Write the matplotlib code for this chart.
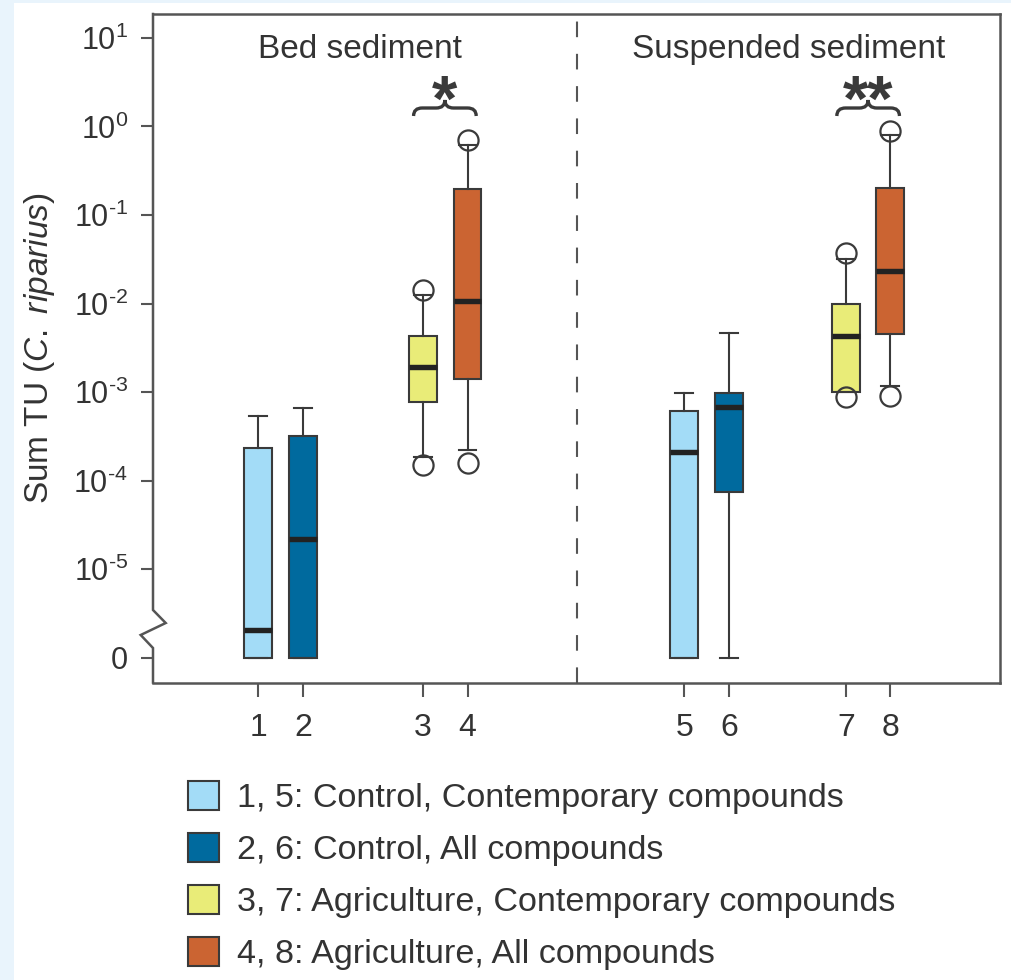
import math
import matplotlib
matplotlib.use("Agg")
import matplotlib.pyplot as plt
from matplotlib.patches import Patch, Rectangle, PathPatch
from matplotlib.path import Path
from matplotlib.lines import Line2D
from matplotlib.ticker import FixedLocator, NullLocator
import matplotlib.transforms as mtransforms

plt.rcParams['font.family'] = ['Liberation Sans', 'DejaVu Sans']
plt.rcParams['mathtext.fontset'] = 'custom'
plt.rcParams['mathtext.rm'] = 'Liberation Sans'
plt.rcParams['mathtext.it'] = 'Liberation Sans:italic'
plt.rcParams['mathtext.bf'] = 'Liberation Sans:bold'
plt.rcParams['mathtext.default'] = 'regular'

# ---- data -------------------------------------------------------------
box_labels = ['1', '2', '3', '4', '5', '6', '7', '8']
whisker_low = [0, 0, 1.86e-4, 2.21e-4, 0, 0, 1.0e-3, 1.17e-3]
quartile_1 = [0, 0, 7.8e-4, 1.39e-3, 0, 7.5e-5, 1.0e-3, 4.5e-3]
median = [2.05e-6, 2.2e-5, 1.9e-3, 1.07e-2, 2.1e-4, 6.8e-4, 4.3e-3, 2.3e-2]
quartile_3 = [2.3e-4, 3.2e-4, 4.3e-3, 0.196, 6.1e-4, 9.8e-4, 9.8e-3, 0.20]
whisker_high = [5.3e-4, 6.6e-4, 1.24e-2, 0.62, 9.8e-4, 4.6e-3, 3.18e-2, 0.80]
outlier_high = [None, None, 1.43e-2, 0.70, None, None, 3.69e-2, 0.89]
outlier_low = [None, None, 1.50e-4, 1.56e-4, None, None, 8.85e-4, 9.0e-4]

panel_titles = ['Bed sediment', 'Suspended sediment']
significance = ['*', '**']
legend_labels = ['1, 5: Control, Contemporary compounds',
                 '2, 6: Control, All compounds',
                 '3, 7: Agriculture, Contemporary compounds',
                 '4, 8: Agriculture, All compounds']
y_tick_values = [0, 1e-5, 1e-4, 1e-3, 1e-2, 1e-1, 1e0, 1e1]

# ---- layout / style ---------------------------------------------------
W, H = 1011, 980
positions = [2.42, 3.45, 6.2, 7.23, 12.21, 13.25, 15.93, 16.95]
divider_x = 9.75
title_x = [4.76, 14.62]
pair_centers = [6.71, 16.44]
pair_halfwidth = 0.72
colors = ['#a3dcf7', '#006a9e', '#e9ec78', '#cb6432']
box_colors = colors + colors
EDGE = '#3a3a3a'
TEXT = '#333333'
SPINE = '#555555'
ZERO_AT = 1e-6  # where "0" sits below the axis break


def plotted(v):
    return ZERO_AT if v == 0 else v


fig = plt.figure(figsize=(W / 100, H / 100), dpi=100)
fig.patch.set_facecolor('#e9f4fc')
fig.add_artist(Rectangle((14 / W, 0), 1, 1 - 3 / H, transform=fig.transFigure,
                         facecolor='white', edgecolor='none', zorder=-10))

ax_l, ax_r, ax_t, ax_b = 153, 1000, 14, 682.5
ax = fig.add_axes([ax_l / W, (H - ax_b) / H, (ax_r - ax_l) / W, (ax_b - ax_t) / H])
ax.set_facecolor('white')
ax.set_yscale('log')
ax.set_ylim(5.22e-7, 18.67)
ax.set_xlim(0, (ax_r - ax_l) / 43.5)

stats = []
for i in range(len(box_labels)):
    fl = [plotted(v) for v in (outlier_low[i], outlier_high[i]) if v is not None]
    stats.append(dict(label=box_labels[i], med=plotted(median[i]),
                      q1=plotted(quartile_1[i]), q3=plotted(quartile_3[i]),
                      whislo=plotted(whisker_low[i]), whishi=plotted(whisker_high[i]),
                      fliers=fl))

bp = ax.bxp(stats, positions=positions, widths=0.64, capwidths=0.41,
            patch_artist=True, showfliers=True,
            boxprops=dict(edgecolor=EDGE, linewidth=1.5),
            medianprops=dict(color='#222222', linewidth=3.9, solid_capstyle='butt'),
            whiskerprops=dict(color=EDGE, linewidth=1.5),
            capprops=dict(color=EDGE, linewidth=1.5),
            flierprops=dict(marker='o', markersize=14.5, markerfacecolor='none',
                            markeredgecolor=EDGE, markeredgewidth=1.6))
for patch, c in zip(bp['boxes'], box_colors):
    patch.set_facecolor(c)

# dashed separator between the two sediment types
ax.axvline(divider_x, color=SPINE, linewidth=1.5, linestyle=(0, (7.5, 8.0)), zorder=1)

# ticks
ax.set_xticks(positions)
ax.set_xticklabels(box_labels)
ax.tick_params(axis='x', direction='out', length=10, width=1.5, color=SPINE,
               labelsize=23, labelcolor=TEXT, pad=12)


def tick_text(v):
    if v == 0:
        return '0'
    e = int(round(math.log10(v)))
    if e < 0:
        return r'$10^{\text{-}%d}$' % abs(e)
    return r'$10^{%d}$' % e


ax.yaxis.set_major_locator(FixedLocator([plotted(v) for v in y_tick_values]))
ax.yaxis.set_minor_locator(NullLocator())
ax.set_yticklabels([tick_text(v) for v in y_tick_values])
ax.tick_params(axis='y', direction='out', length=9, width=1.5, color=SPINE,
               labelsize=22, labelcolor=TEXT, pad=9)
ax.tick_params(which='minor', length=0)

ax.set_ylabel(r'Sum TU ($\mathit{C.\ riparius}$)', fontsize=24, color=TEXT, labelpad=12)

# frame with a broken left spine
for side in ('top', 'right', 'bottom'):
    ax.spines[side].set_color(SPINE)
    ax.spines[side].set_linewidth(1.8)
ax.spines['left'].set_visible(False)
pw = ax_r - ax_l
ph = ax_b - ax_t
fx = lambda px: (px - ax_l) / pw
fy = lambda py: (ax_b - py) / ph
break_x = [0, 0, fx(165.7), fx(140.7), 0, 0]
break_y = [1, fy(610), fy(623), fy(635), fy(648), 0]
ax.add_line(Line2D(break_x, break_y, transform=ax.transAxes, color=SPINE,
                   linewidth=1.8, clip_on=False, solid_joinstyle='miter'))

# panel titles
blend = mtransforms.blended_transform_factory(ax.transData, ax.transAxes)
for tx, t in zip(title_x, panel_titles):
    ax.text(tx, fy(58), t, transform=blend,
            ha='center', va='baseline', fontsize=24, color=TEXT)

# significance braces
for xc, mark in zip(pair_centers, significance):
    x0, x1 = xc - pair_halfwidth, xc + pair_halfwidth
    yb, ym, yt = fy(116), fy(108), fy(100)
    r = 0.2
    verts = [(x0, yb), (x0, ym), (x0 + r, ym), (xc - r, ym), (xc, ym), (xc, yt),
             (xc, ym), (xc + r, ym), (x1 - r, ym), (x1, ym), (x1, yb)]
    codes = [Path.MOVETO, Path.CURVE3, Path.CURVE3, Path.LINETO, Path.CURVE3, Path.CURVE3,
             Path.CURVE3, Path.CURVE3, Path.LINETO, Path.CURVE3, Path.CURVE3]
    ax.add_patch(PathPatch(Path(verts, codes), transform=blend, facecolor='none',
                           edgecolor=EDGE, linewidth=2.4, clip_on=False))
    ax.text(xc, fy(121), mark, transform=blend, ha='center', va='baseline',
            fontsize=47, fontweight='bold', color=EDGE)

# legend
handles = [Patch(facecolor=c, edgecolor=EDGE, linewidth=1.5) for c in colors]
fig.legend(handles, legend_labels, loc='upper left',
           bbox_to_anchor=(188 / W, 1 - 781 / H), frameon=False, fontsize=24.6,
           handlelength=0.92, handleheight=0.92, handletextpad=0.5,
           labelspacing=0.55, borderpad=0, borderaxespad=0, labelcolor=TEXT)

fig.savefig('out.png', dpi=100, facecolor=fig.get_facecolor())
